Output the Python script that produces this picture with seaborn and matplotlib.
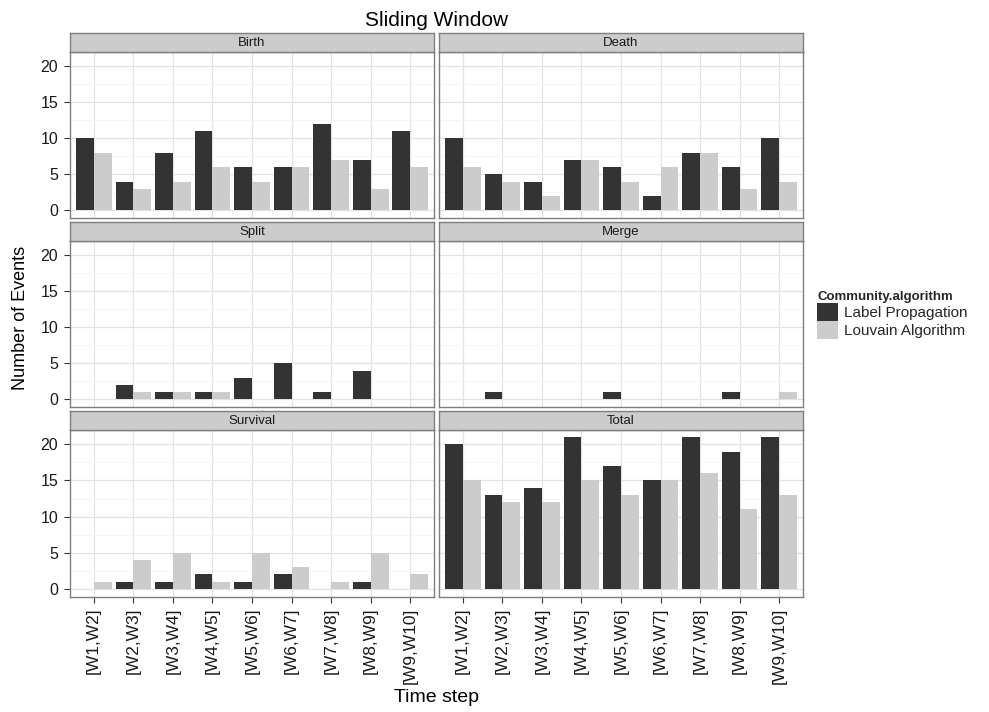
import matplotlib
matplotlib.use("Agg")
import matplotlib.pyplot as plt
from matplotlib.patches import Patch
from matplotlib.ticker import MultipleLocator
import pandas as pd
import seaborn as sns

# ---- data -------------------------------------------------------------
windows = ["[W1,W2]", "[W2,W3]", "[W3,W4]", "[W4,W5]", "[W5,W6]",
           "[W6,W7]", "[W7,W8]", "[W8,W9]", "[W9,W10]"]
algorithms = ["Label Propagation", "Louvain Algorithm"]
events = ["Birth", "Death", "Split", "Merge", "Survival", "Total"]

birth_lp = [10, 4, 8, 11, 6, 6, 12, 7, 11]
birth_lv = [8, 3, 4, 6, 4, 6, 7, 3, 6]
death_lp = [10, 5, 4, 7, 6, 2, 8, 6, 10]
death_lv = [6, 4, 2, 7, 4, 6, 8, 3, 4]
split_lp = [0, 2, 1, 1, 3, 5, 1, 4, 0]
split_lv = [0, 1, 1, 1, 0, 0, 0, 0, 0]
merge_lp = [0, 1, 0, 0, 1, 0, 0, 1, 0]
merge_lv = [0, 0, 0, 0, 0, 0, 0, 0, 1]
survival_lp = [0, 1, 1, 2, 1, 2, 0, 1, 0]
survival_lv = [1, 4, 5, 1, 5, 3, 1, 5, 2]
total_lp = [20, 13, 14, 21, 17, 15, 21, 19, 21]
total_lv = [15, 12, 12, 15, 13, 15, 16, 11, 13]

series = {
    "Birth": (birth_lp, birth_lv),
    "Death": (death_lp, death_lv),
    "Split": (split_lp, split_lv),
    "Merge": (merge_lp, merge_lv),
    "Survival": (survival_lp, survival_lv),
    "Total": (total_lp, total_lv),
}

rows = []
for ev in events:
    for alg, vals in zip(algorithms, series[ev]):
        for w, v in zip(windows, vals):
            rows.append({"Event": ev, "Time step": w,
                         "Community.algorithm": alg, "Count": v})
df = pd.DataFrame(rows)

# ---- style ------------------------------------------------------------
sns.set_style("white")
plt.rcParams["font.family"] = ["Liberation Sans", "DejaVu Sans"]

palette = {"Label Propagation": "#333333", "Louvain Algorithm": "#cccccc"}
border = "#7f7f7f"
grid_major = "#e3e3e3"
grid_minor = "#f5f5f5"
text_col = "#1a1a1a"

W, H = 989, 712
fig = plt.figure(figsize=(W / 100, H / 100), dpi=100)
fig.patch.set_facecolor("white")


def box(x0, y0, x1, y1):
    return [x0 / W, 1 - y1 / H, (x1 - x0) / W, (y1 - y0) / H]


col_x = [(70, 434), (439, 803)]
row_y = [(33, 51.5, 218), (222, 240.5, 407), (411, 429.5, 596.5)]

for i, ev in enumerate(events):
    r, c = divmod(i, 2)
    x0, x1 = col_x[c]
    st, sb, pb = row_y[r]

    ax = fig.add_axes(box(x0, sb, x1, pb))
    sub = df[df["Event"] == ev]
    sns.barplot(data=sub, x="Time step", y="Count", hue="Community.algorithm",
                order=windows, hue_order=algorithms, palette=palette,
                width=0.9, linewidth=0, errorbar=None, legend=False,
                saturation=1, ax=ax)
    ax.set_xlim(-0.6, 8.6)
    ax.set_ylim(-1.05, 22.05)
    ax.set_xlabel("")
    ax.set_ylabel("")
    ax.set_axisbelow(True)
    ax.set_facecolor("white")
    ax.yaxis.set_major_locator(MultipleLocator(5))
    ax.yaxis.set_minor_locator(MultipleLocator(2.5))
    ax.grid(which="major", axis="both", color=grid_major, linewidth=0.9)
    ax.grid(which="minor", axis="y", color=grid_minor, linewidth=0.6)
    for sp in ax.spines.values():
        sp.set_visible(True)
        sp.set_color(border)
        sp.set_linewidth(1.0)
    ax.tick_params(which="minor", length=0)

    if c == 0:
        ax.tick_params(axis="y", which="major", left=True, length=4.5,
                       width=0.8, color="#333333", labelsize=11.5,
                       labelcolor=text_col, pad=4)
    else:
        ax.tick_params(axis="y", which="both", left=False, labelleft=False)

    if r == 2:
        ax.tick_params(axis="x", bottom=True, length=4.5, width=0.8,
                       color="#333333", labelsize=12.5, labelcolor=text_col,
                       pad=3.5)
        for lab in ax.get_xticklabels():
            lab.set_rotation(90)
    else:
        ax.tick_params(axis="x", bottom=False, labelbottom=False)

    # facet strip
    sax = fig.add_axes(box(x0, st, x1, sb))
    sax.set_facecolor("#cccccc")
    sax.set_xticks([])
    sax.set_yticks([])
    for sp in sax.spines.values():
        sp.set_visible(True)
        sp.set_color(border)
        sp.set_linewidth(1.0)
    sax.text(0.5, 0.48, ev, ha="center", va="center", fontsize=9.5,
             color=text_col, transform=sax.transAxes)

# ---- titles -----------------------------------------------------------
fig.text(436.5 / W, 1 - 20 / H, "Sliding Window", ha="center", va="center",
         fontsize=15, color="black")
fig.text(20.5 / W, 1 - 318 / H, "Number of Events", ha="center",
         va="center", rotation=90, fontsize=13, color="black")
fig.text(436.5 / W, 1 - 698 / H, "Time step", ha="center", va="center",
         fontsize=14, color="black")

# ---- legend -----------------------------------------------------------
handles = [Patch(facecolor=palette[a], edgecolor="none") for a in algorithms]
fig.legend(handles, algorithms, title="Community.algorithm",
           loc="upper left", bbox_to_anchor=(817 / W, 1 - 291 / H),
           frameon=False, fontsize=11,
           title_fontproperties={"weight": "bold", "size": 9.5},
           handlelength=1.35, handleheight=1.45, handletextpad=0.45,
           labelspacing=0.0, borderpad=0.0, borderaxespad=0.0,
           alignment="left")

fig.savefig("out.png", dpi=100)
